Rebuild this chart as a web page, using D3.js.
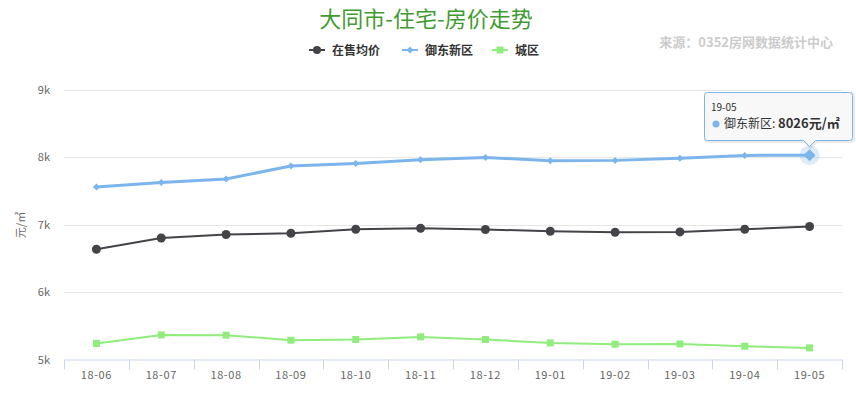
<!DOCTYPE html>
<html lang="zh">
<head>
<meta charset="utf-8">
<title>大同市-住宅-房价走势</title>
<script src="https://cdn.jsdelivr.net/npm/d3@7/dist/d3.min.js"></script>
<style>
  body { margin: 0; background: #fff; }
  svg { font-family: "Noto Sans CJK SC", "Noto Sans", sans-serif; }
</style>
</head>
<body>
<script>
// data
var months = ["18-06", "18-07", "18-08", "18-09", "18-10", "18-11", "18-12",
              "19-01", "19-02", "19-03", "19-04", "19-05"];
var avgPrice = [6634, 6800, 6852, 6870, 6930, 6945, 6926, 6900, 6886, 6890, 6930, 6970];
var yudong   = [7556, 7624, 7674, 7867, 7905, 7960, 7994, 7945, 7950, 7980, 8024, 8026];
var chengqu  = [5237, 5364, 5360, 5286, 5296, 5335, 5296, 5246, 5227, 5231, 5197, 5172];
var yTicks = [5000, 6000, 7000, 8000, 9000];

var w = 856, h = 394;
var plotLeft = 64, plotRight = 842, plotTop = 89.5, plotBottom = 359.5;

var series = [
  { name: "在售均价", values: avgPrice, color: "#434348", symbol: "circle", width: 2 },
  { name: "御东新区", values: yudong, color: "#7cb5ec", symbol: "diamond", width: 3 },
  { name: "城区", values: chengqu, color: "#90ed7d", symbol: "square", width: 2 }
];

var x = d3.scaleBand().domain(months).range([plotLeft, plotRight]);
var y = d3.scaleLinear().domain([5000, 9000]).range([plotBottom, plotTop]);

var svg = d3.select("body").append("svg")
  .attr("width", w)
  .attr("height", h);

// title
svg.append("text")
  .attr("x", 426).attr("y", 27)
  .attr("text-anchor", "middle")
  .attr("font-size", "22px")
  .attr("fill", "#3f9b30")
  .text("大同市-住宅-房价走势");

// source
svg.append("text")
  .attr("x", 833).attr("y", 47)
  .attr("text-anchor", "end")
  .attr("font-size", "13px")
  .attr("font-weight", "bold")
  .attr("fill", "#cccccc")
  .text("来源：0352房网数据统计中心");

// gridlines
svg.append("g")
  .selectAll("line")
  .data(yTicks.slice(1))
  .enter()
  .append("line")
  .attr("x1", plotLeft).attr("x2", plotRight)
  .attr("y1", function(d) { return Math.round(y(d)) + 0.5; })
  .attr("y2", function(d) { return Math.round(y(d)) + 0.5; })
  .attr("stroke", "#e6e6e6");

// y axis labels
var yAxis = d3.axisLeft(y).tickValues(yTicks).tickSize(0).tickPadding(0)
  .tickFormat(function(d) { return (d / 1000) + "k"; });
var yg = svg.append("g")
  .attr("transform", "translate(50,0)")
  .call(yAxis);
yg.select(".domain").remove();
yg.selectAll("text")
  .attr("font-family", "Noto Sans CJK SC, sans-serif")
  .attr("font-size", "11px")
  .attr("fill", "#666666");

// y axis title
svg.append("text")
  .attr("transform", "translate(25,225) rotate(-90)")
  .attr("text-anchor", "middle")
  .attr("font-size", "11px")
  .attr("fill", "#666666")
  .text("元/㎡");

// x axis
var xAxis = d3.axisBottom(x).tickSize(0).tickPadding(12);
var xg = svg.append("g")
  .attr("transform", "translate(0," + plotBottom + ")")
  .call(xAxis);
xg.select(".domain").attr("stroke", "#ccd6eb");
xg.selectAll("text")
  .attr("font-family", "Noto Sans CJK SC, sans-serif")
  .attr("font-size", "11px")
  .attr("letter-spacing", "0.6px")
  .attr("fill", "#666666");
// tick marks between categories
xg.selectAll(".band-tick")
  .data(d3.range(months.length + 1))
  .enter()
  .append("line")
  .attr("x1", function(i) { return Math.round(plotLeft + i * x.step()) + 0.5; })
  .attr("x2", function(i) { return Math.round(plotLeft + i * x.step()) + 0.5; })
  .attr("y1", 0).attr("y2", 10)
  .attr("stroke", "#ccd6eb");

var cx = function(i) { return x(months[i]) + x.bandwidth() / 2; };

var line = d3.line()
  .x(function(d, i) { return cx(i); })
  .y(function(d) { return y(d); });

// halo on hovered point
svg.append("circle")
  .attr("cx", cx(months.length - 1))
  .attr("cy", y(yudong[yudong.length - 1]))
  .attr("r", 10)
  .attr("fill", "#7cb5ec")
  .attr("opacity", 0.25);

// marker shapes; diamond is a square turned on its corner
function marker(type, r) {
  if (type === "circle") return d3.symbol().type(d3.symbolCircle).size(Math.PI * r * r)();
  if (type === "square") return "M" + (-r) + "," + (-r) + "H" + r + "V" + r + "H" + (-r) + "Z";
  return "M0," + (-r) + "L" + r + ",0L0," + r + "L" + (-r) + ",0Z";
}
var markerR = { circle: 4.5, diamond: 3.5, square: 3.5 };

series.forEach(function(s) {
  var g = svg.append("g");
  g.append("path")
    .datum(s.values)
    .attr("d", line)
    .attr("fill", "none")
    .attr("stroke", s.color)
    .attr("stroke-width", s.width)
    .attr("stroke-linejoin", "round");
  g.selectAll("path.pt")
    .data(s.values)
    .enter()
    .append("path")
    .attr("class", "pt")
    .attr("transform", function(d, i) { return "translate(" + cx(i) + "," + y(d) + ")"; })
    .attr("d", function(d, i) {
      var r = markerR[s.symbol];
      if (s.symbol === "diamond" && i === s.values.length - 1) r = 6;
      return marker(s.symbol, r);
    })
    .attr("fill", s.color);
});

// legend
var legendX = [309, 402, 492];
var legend = svg.append("g");
series.forEach(function(s, i) {
  var lg = legend.append("g").attr("transform", "translate(" + legendX[i] + ",50)");
  lg.append("line")
    .attr("x1", 0).attr("x2", 16)
    .attr("stroke", s.color).attr("stroke-width", 2);
  lg.append("path")
    .attr("transform", "translate(8,0)")
    .attr("d", marker(s.symbol, s.symbol === "circle" ? 4 : 3.5))
    .attr("fill", s.color);
  lg.append("text")
    .attr("x", 23).attr("y", 4.5)
    .attr("font-size", "12px")
    .attr("font-weight", "bold")
    .attr("fill", "#333333")
    .text(s.name);
});

// tooltip
var px = cx(months.length - 1), py = y(yudong[yudong.length - 1]);
var tip = svg.append("g");
var tx = 704.5, ty = 92.5, tw = 148, th = 48;
var tipPath = "M" + (tx + 3) + "," + ty + " H" + (tx + tw - 3) + " Q" + (tx + tw) + "," + ty + " " + (tx + tw) + "," + (ty + 3) +
  " V" + (ty + th - 3) + " Q" + (tx + tw) + "," + (ty + th) + " " + (tx + tw - 3) + "," + (ty + th) +
  " H" + (px + 6) + " L" + px + "," + (ty + th + 6) + " L" + (px - 6) + "," + (ty + th) +
  " H" + (tx + 3) + " Q" + tx + "," + (ty + th) + " " + tx + "," + (ty + th - 3) +
  " V" + (ty + 3) + " Q" + tx + "," + ty + " " + (tx + 3) + "," + ty + " Z";
tip.append("path")
  .attr("d", tipPath)
  .attr("transform", "translate(1,1)")
  .attr("fill", "none")
  .attr("stroke", "#000")
  .attr("stroke-opacity", 0.08)
  .attr("stroke-width", 3);
tip.append("path")
  .attr("d", tipPath)
  .attr("fill", "rgba(247,247,247,0.9)")
  .attr("stroke", "#7cb5ec")
  .attr("stroke-width", 1);
tip.append("text")
  .attr("x", 711).attr("y", 111)
  .attr("font-size", "10px")
  .attr("fill", "#333333")
  .text(months[months.length - 1]);
tip.append("circle")
  .attr("cx", 716).attr("cy", 124)
  .attr("r", 3.5)
  .attr("fill", "#7cb5ec");
var t2 = tip.append("text")
  .attr("x", 724).attr("y", 128)
  .attr("font-size", "12px")
  .attr("fill", "#333333");
t2.append("tspan").text("御东新区: ");
t2.append("tspan").attr("font-weight", "bold").attr("font-size", "13px").text(yudong[yudong.length - 1] + "元/㎡");
</script>
</body>
</html>
